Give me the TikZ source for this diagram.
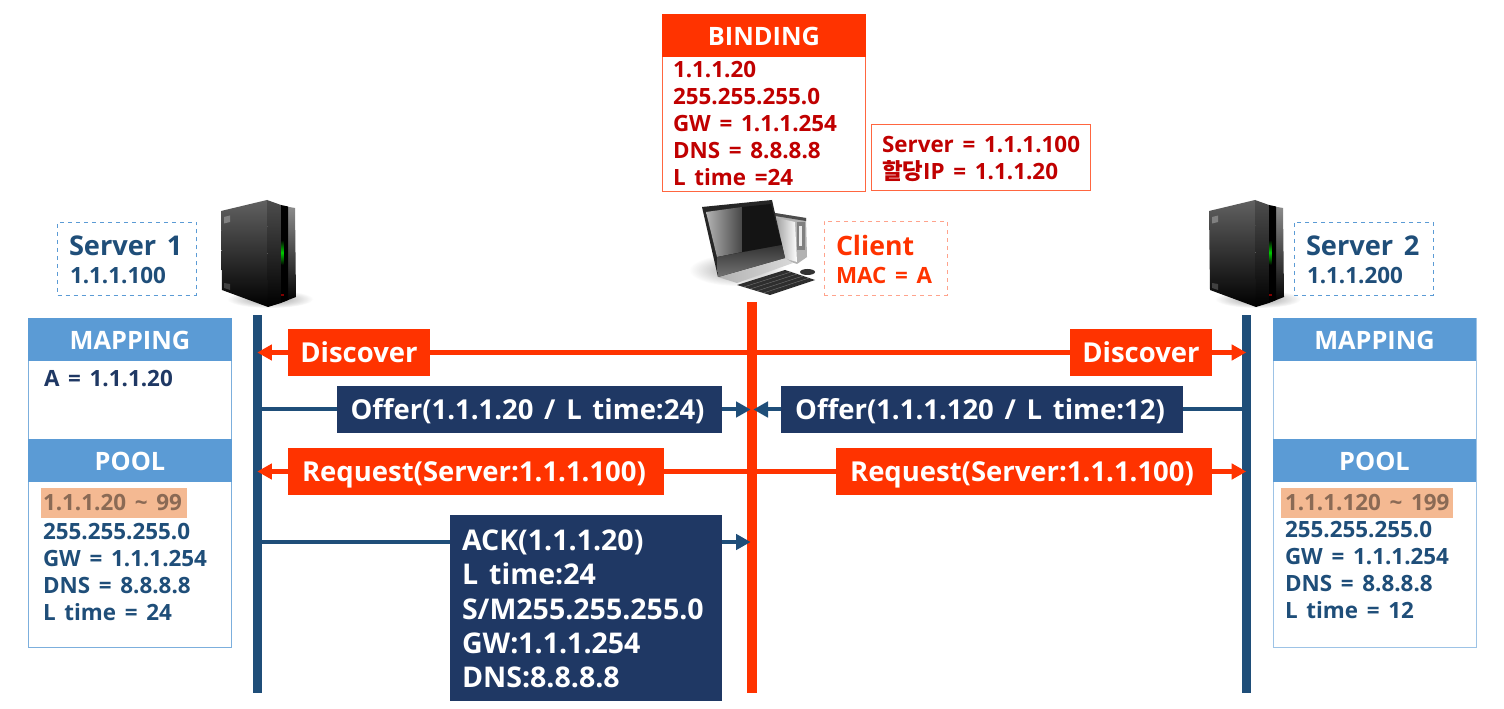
\documentclass[tikz,border=0pt]{standalone}
\usepackage{fontspec}
\setmainfont{Open Sans}[WordSpace=1.5]
\newfontfamily\cjk{Noto Sans CJK KR}
\usetikzlibrary{arrows.meta,shadings,calc}
\definecolor{red1}{HTML}{FF3300}
\definecolor{navy}{HTML}{1F3864}
\definecolor{steel}{HTML}{1F4E79}
\definecolor{hdr}{HTML}{5B9BD5}
\definecolor{crim}{HTML}{C00000}
\definecolor{peach}{HTML}{F4B992}
\definecolor{peachtxt}{HTML}{8A6A55}
\newcommand{\fs}[2]{\fontsize{#1}{#2}\selectfont\bfseries}
\tikzset{
  x=0.75pt,y=-0.75pt,
  box/.style={anchor=center,inner sep=0pt,outer sep=0pt,text=white,font=\fs{20.6pt}{24pt},text height=19pt,text depth=3.6pt},
  head/.style={fill=hdr,font=\fs{19pt}{19pt},text=white,text height=16pt,text depth=1.1pt},
  redarrow/.style={draw=red1,line width=3.4pt,-{Triangle[length=11pt,width=11.5pt]}},
  redline/.style={draw=red1,line width=3.4pt},
  bluearrow/.style={draw=steel,line width=3pt,-{Triangle[length=11pt,width=11.5pt]}},
  blueline/.style={draw=steel,line width=3pt},
  tlabel/.style={anchor=west,inner sep=0pt,outer sep=0pt,align=left},
}
% rectangular node given by pixel edges: name, x0,y0,x1,y1
\newcommand{\pbox}[7][]{%
  \pgfmathsetmacro{\mybw}{(#4-#2)*0.75}\pgfmathsetmacro{\mybh}{(#5-#3)*0.75}%
  \node[inner sep=0pt,outer sep=0pt,minimum width=\mybw pt,minimum height=\mybh pt,#1] (#6) at ({(#2+#4)/2},{(#3+#5)/2}) {#7};}
\newcommand{\serverpic}[2]{%
  \begin{scope}[shift={(#1,#2)}]
    \shade[inner color=black!55,outer color=white,opacity=.75] (49,99) ellipse (43 and 9);
    \shade[top color=black!62,middle color=black!84,bottom color=black] (0,11) -- (46,0) -- (47,107) -- (1,90) -- cycle;
    \shade[top color=black!70,middle color=black,bottom color=black] (46,0) -- (60,5) -- (60,103) -- (47,107) -- cycle;
    \shade[top color=black!45,middle color=black!92,bottom color=black] (62,6) -- (74,8) -- (75,97) -- (62,102) -- cycle;
    \fill[black] (60,5) -- (67,6.5) -- (67,100) -- (60,103) -- cycle;
    \shade[top color=black,bottom color=black,middle color=green!80!black] (60.5,40) rectangle (62.5,65);
    \fill[black!50] (3,17) -- (9,15.5) -- (9,22) -- (3,23.5) -- cycle;
    \fill[black!75] (3,83) -- (9,84) -- (9,90) -- (3,88) -- cycle;
    \fill[red!50!black] (60,94) rectangle (63,96);
  \end{scope}}
\begin{document}
\begin{tikzpicture}
\useasboundingbox (0,0) rectangle (1504,709);
\fill[white] (0,0) rectangle (1504,709);

% ---- vertical lifelines
\pbox[fill=steel]{252.5}{315}{262}{693}{s1line}{}
\pbox[fill=steel]{1241.5}{315}{1251}{693}{s2line}{}
\pbox[fill=red1]{747}{302}{757}{693}{cline}{}

% ---- servers & client pictures
\serverpic{221}{200}
\serverpic{1209}{200}
\begin{scope}
  \shade[inner color=black!45,outer color=white,opacity=.8] (737,270) ellipse (48 and 16);
  % tower
  \fill[black!30] (775,213) -- (806,218) -- (807,257) -- (797,264) -- (785,260) -- (775,240) -- cycle;
  \shade[left color=black!35,right color=white] (777,218) -- (795,222) -- (797,262) -- (783,258) -- (777,240) -- cycle;
  \fill[black!70] (775,213) -- (806,218) -- (806,221) -- (775,216) -- cycle;
  \fill[black!50] (797,222) rectangle (805,250);
  \fill[black!8] (799,226) rectangle (802,246);
  % stand
  \shade[left color=black!30,right color=black!15] (718,277) -- (785,258) -- (793,263) -- (737,283) -- cycle;
  % monitor
  \fill[black!85] (702,207) -- (772,200) -- (785,258) -- (718,277) -- cycle;
  \shade[left color=black!30,right color=black!72] (706,212) -- (742,207) -- (742,252) -- (717,257) -- cycle;
  \fill[black!92] (742,207) -- (771,204) -- (782,245) -- (742,252) -- cycle;
  \shade[top color=black!80,bottom color=black!55] (717,257) -- (782,245) -- (785,258) -- (718,277) -- cycle;
  % keyboard
  \fill[black!82] (737,285) -- (785,270) -- (815,280) -- (770,295) -- cycle;
  \foreach \t in {.2,.4,.6,.8} \draw[black!55,line width=.3pt] ($(737,285)!\t!(770,295)$) -- ($(785,270)!\t!(815,280)$);
  % mouse
  \fill[black!80] (807.5,272) ellipse (7.5 and 3);
\end{scope}

% ---- dashed labels
\pbox[draw=hdr,dashed,line width=.6pt]{57.5}{222}{196}{295}{s1lab}{}
\node[tlabel,text=steel,font=\fs{20.4pt}{20pt}] (s1t) at (69,246) {Server 1};
\node[tlabel,text=steel,font=\fs{16.8pt}{16.8pt}] (s1ip) at (70,276) {1.1.1.100};

\pbox[draw=hdr,dashed,line width=.6pt]{1294}{222}{1433}{295}{s2lab}{}
\node[tlabel,text=steel,font=\fs{20.4pt}{20pt}] (s2t) at (1306,246) {Server 2};
\node[tlabel,text=steel,font=\fs{16.8pt}{16.8pt}] (s2ip) at (1307,276) {1.1.1.200};

\pbox[draw=red1!45,dashed,line width=.6pt]{824}{221}{947}{295}{clab}{}
\node[tlabel,text=red1,font=\fs{20pt}{20pt}] (ct) at (836,246) {Client};
\node[tlabel,text=red1,font=\fs{16.8pt}{16.8pt}] (cm) at (836,276) {MAC = A};

% ---- binding
\pbox[draw=red1!75,line width=.7pt,fill=white]{662.5}{14}{865}{191}{bindbody}{}
\pbox[head,fill=red1]{662}{14}{866}{57}{bindhead}{BINDING}
\node[tlabel,text=crim,font=\fs{16.8pt}{20.25pt}] (bindtxt) at (673,123.5) {1.1.1.20\\255.255.255.0\\GW = 1.1.1.254\\DNS = 8.8.8.8\\L time =24};
\pbox[draw=red1!75,line width=.7pt]{871}{124}{1090}{190}{srvbox}{}
\node[tlabel,text=crim,font=\fs{16.8pt}{20.25pt}] (srvtxt) at (882,159) {Server = 1.1.1.100\\{\cjk\bfseries 할당}IP = 1.1.1.20};

% ---- left panel
\pbox[draw=hdr!80,line width=.6pt]{28.5}{318}{231.5}{647}{lpanel}{}
\pbox[head]{28}{318}{232}{361}{lmaphead}{MAPPING}
\pbox[head]{28}{439}{232}{482}{lpoolhead}{POOL}
\node[tlabel,text=navy,font=\fs{16.8pt}{16.8pt}] (lmap) at (44,379) {A = 1.1.1.20};
\pbox[fill=peach]{41}{488}{187}{518}{lhl}{}
\node[tlabel,text=peachtxt,font=\fs{16.8pt}{16.8pt}] (lhlt) at (43,503) {1.1.1.20 \char"7E{} 99};
\node[tlabel,text=steel,font=\fs{16.8pt}{20.25pt}] (lpool) at (43,572) {255.255.255.0\\GW = 1.1.1.254\\DNS = 8.8.8.8\\L time = 24};

% ---- right panel
\pbox[draw=hdr!60,line width=.7pt]{1273.5}{318}{1476}{647}{rpanel}{}
\pbox[head]{1273}{318}{1476}{361}{rmaphead}{MAPPING}
\pbox[head]{1273}{439}{1476}{482}{rpoolhead}{POOL}
\pbox[fill=peach]{1281}{488}{1453}{518}{rhl}{}
\node[tlabel,text=peachtxt,font=\fs{16.8pt}{16.8pt}] (rhlt) at (1285,503) {1.1.1.120 \char"7E{} 199};
\node[tlabel,text=steel,font=\fs{16.8pt}{20.25pt}] (rpool) at (1285,570) {255.255.255.0\\GW = 1.1.1.254\\DNS = 8.8.8.8\\L time = 12};

% ---- message boxes
\pbox[fill=red1,box]{288}{329}{430}{376}{d1}{Discover}
\pbox[fill=red1,box]{1070}{329}{1212}{376}{d2}{Discover}
\pbox[fill=navy,box]{337}{386}{722}{433}{o1}{Offer(1.1.1.20 / L time:24)\hspace*{3pt}}
\pbox[fill=navy,box]{781}{386}{1183}{433}{o2}{Offer(1.1.1.120 / L time:12)\hspace*{3pt}}
\pbox[fill=red1,box]{288}{448}{664}{495}{r1}{Request(Server:1.1.1.100)\hspace*{3pt}}
\pbox[fill=red1,box]{836}{448}{1212}{495}{r2}{Request(Server:1.1.1.100)\hspace*{3pt}}
\pbox[fill=navy]{450}{515}{722}{701}{ack}{}
\node[tlabel,text=white,font=\fs{21.4pt}{25.7pt}] (acktxt) at (462,609) {ACK(1.1.1.20)\\L time:24\\S/M255.255.255.0\\GW:1.1.1.254\\DNS:8.8.8.8};

% ---- connectors
\coordinate (ackY) at (450,542);
\draw[redline] (d1.east) -- (d2.west);
\draw[redarrow] (d1.west) -- (d1.west -| s1line);
\draw[redarrow] (d2.east) -- (d2.east -| s2line);
\draw[redline] (r1.east) -- (r2.west);
\draw[redarrow] (r1.west) -- (r1.west -| s1line);
\draw[redarrow] (r2.east) -- (r2.east -| s2line);
\draw[blueline] (o1.west) -- (o1.west -| s1line.east);
\draw[blueline] (o2.east) -- (o2.east -| s2line.west);
\draw[bluearrow,shorten >=1pt] (o1.east) -- (o1.east -| cline);
\draw[bluearrow,shorten >=1pt] (o2.west) -- (o2.west -| cline);
\draw[blueline] (ackY) -- (ackY -| s1line.east);
\draw[bluearrow,shorten >=1pt] (ackY -| ack.east) -- (ackY -| cline);
\end{tikzpicture}
\end{document}
